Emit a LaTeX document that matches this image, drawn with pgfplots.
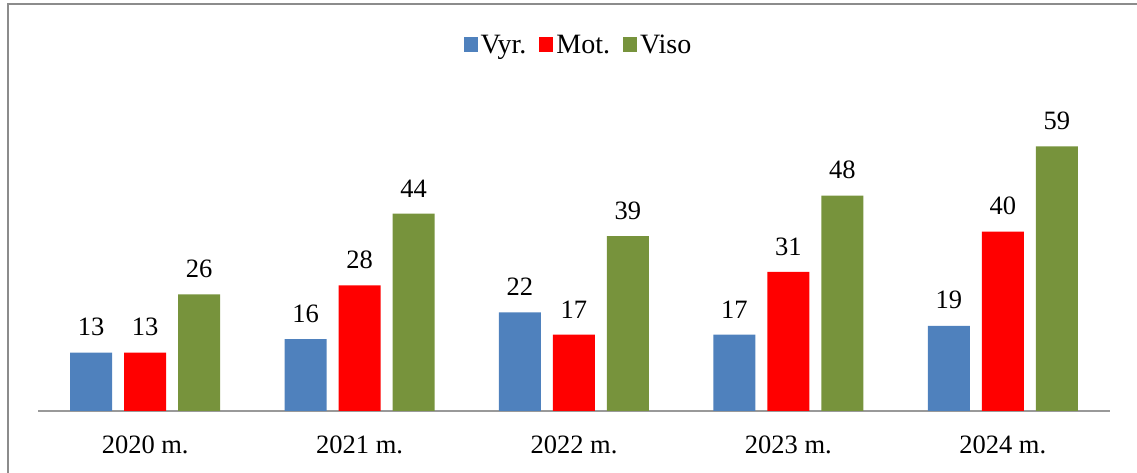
\documentclass[border=0pt]{standalone}
\usepackage{pgfplots}
\pgfplotsset{compat=1.18}
\usepackage{fontspec}
\setmainfont{Liberation Serif}
\definecolor{cblue}{HTML}{4F81BD}
\definecolor{cred}{HTML}{FF0000}
\definecolor{cgreen}{HTML}{77933C}
\definecolor{frame}{HTML}{8C8C8C}
\begin{document}
\begin{tikzpicture}[x=1pt,y=1pt]
\useasboundingbox (0,0) rectangle (1137,473);
\draw[frame, line width=2pt] (8,0) -- (8,469) -- (1137,469);
\begin{axis}[
  at={(38pt,62pt)}, anchor=south west,
  scale only axis, width=1072pt, height=314pt,
  ymin=0, ymax=70, xmin=-0.5, xmax=4.5,
  ybar, bar width=42pt,
  axis y line=none,
  axis x line*=bottom,
  x axis line style={draw=gray!80, line width=1.2pt, -},
  xtick=data, xticklabels={2020 m.,2021 m.,2022 m.,2023 m.,2024 m.},
  major tick length=0pt,
  /pgf/number format/assume math mode=true,
  xticklabel style={font=\fontsize{26.5}{30}\selectfont, yshift=-21pt},
  nodes near coords,
  every node near coord/.append style={font=\fontsize{26.5}{30}\selectfont, yshift=13pt, black},
  legend columns=3,
  legend style={draw=none, at={(axis description cs:0.5,1)}, anchor=center,
    xshift=5pt, yshift=52pt, font=\fontsize{28}{32}\selectfont,
    /tikz/every even column/.append style={column sep=10pt},
    /tikz/every odd column/.append style={column sep=0pt},
    nodes={inner xsep=3pt}},
  legend image code/.code={\fill[#1] (0pt,-7pt) rectangle (14pt,8pt);},
  clip=false,
]
\addplot[fill=cblue, draw=none, bar shift=-54pt] coordinates {(0,13) (1,16) (2,22) (3,17) (4,19)};
\addplot[fill=cred, draw=none, bar shift=0pt] coordinates {(0,13) (1,28) (2,17) (3,31) (4,40)};
\addplot[fill=cgreen, draw=none, bar shift=54pt] coordinates {(0,26) (1,44) (2,39) (3,48) (4,59)};
\legend{Vyr.,Mot.,Viso}
\end{axis}
\end{tikzpicture}
\end{document}
